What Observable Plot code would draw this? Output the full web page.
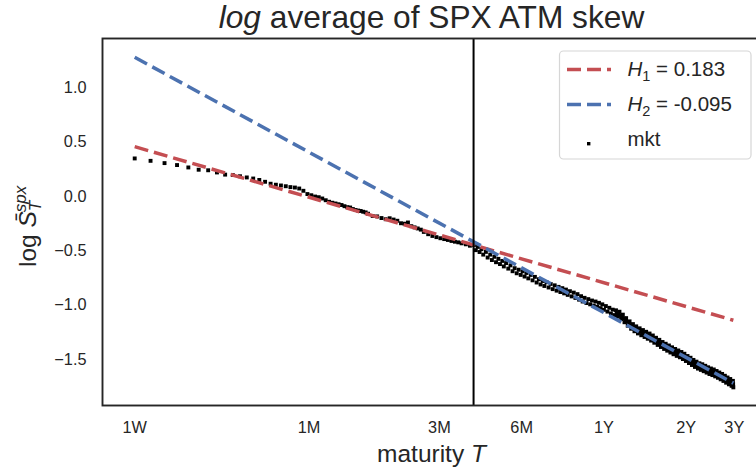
<!DOCTYPE html>
<html>
<head>
<meta charset="utf-8">
<script src="https://cdn.jsdelivr.net/npm/d3@7"></script>
<script src="https://cdn.jsdelivr.net/npm/@observablehq/plot@0.6"></script>
<style>
html, body { margin: 0; padding: 0; background: #fff; overflow: hidden; }
#chart { width: 756px; height: 470px; overflow: hidden; }
#chart svg { max-width: none !important; }
</style>
</head>
<body>
<div id="chart"></div>
<script>
// Market log average ATM skew, by maturity in calendar days
const mktDays = [
  7, 8, 9, 10, 11, 12, 13, 14, 15, 16, 17, 18, 19, 20, 21, 22, 23, 24, 25, 26, 27, 28, 29, 30,
  31, 32, 33, 34, 35, 36, 37, 38, 39, 40, 41, 42, 43, 44, 45, 46, 47, 48, 49, 50,
  52, 54, 56, 58, 60, 62, 64, 66, 68, 70, 72, 74, 76, 78, 80, 83, 86, 89, 92, 95, 98,
  101, 104, 107, 110, 114, 118,
  122, 124, 126, 128, 130, 132, 135, 137, 140, 142, 145, 147, 150, 152, 155, 157, 160, 163,
  166, 169, 172, 175, 178, 181, 184, 187, 190, 193, 197, 200, 204, 207, 211, 214, 218, 221,
  225, 229, 233, 237, 241, 245, 249, 253, 257, 261, 265, 269, 274, 278, 283, 287, 292, 296,
  301, 305, 310, 315, 320, 325, 330, 335, 340, 345, 350, 355, 360, 365, 371, 376, 382, 387,
  393, 398, 404, 410, 416, 422, 428, 434, 440, 446, 453, 459, 466, 472, 479, 486, 493, 500,
  507, 514, 521, 528, 536, 543, 551, 558, 566, 574, 582, 590, 598, 606, 614, 622, 631, 639,
  648, 656, 665, 674, 683, 692, 701, 710, 719, 728, 738, 747, 757, 766, 776, 786, 796, 806,
  816, 826, 836, 846, 857, 867, 878, 888, 899, 910, 921, 932, 943, 954, 965, 976, 988, 999,
  1011, 1022, 1034, 1046, 1058, 1070, 1082, 1086,
  407, 413, 419, 425, 431, 437, 443, 450, 456, 462, 469, 476, 482, 490, 497, 504, 510, 518,
  525, 532, 540, 547, 555, 562, 570, 578, 586, 594, 602, 610, 618, 627, 635, 644, 652, 660,
  670, 679, 688, 697, 706, 715, 724, 733, 743, 752, 762, 771, 781, 791, 801, 811, 821, 831,
  841, 852, 862, 873, 883, 894, 905, 916, 927, 938, 949, 960, 971, 982, 994, 1005, 1016, 1028,
  1040, 1052, 1064, 1076, 1084
];
const mktLogSkew = [
  0.351, 0.329, 0.308, 0.290, 0.268, 0.247, 0.242, 0.222, 0.202, 0.198, 0.187, 0.176, 0.166, 0.153,
  0.136, 0.118, 0.109, 0.102, 0.095, 0.087, 0.083, 0.074, 0.053, 0.023,
  0.012, 0.000, -0.006, -0.018, -0.034, -0.048, -0.057, -0.064, -0.071, -0.078, -0.089, -0.098,
  -0.101, -0.115, -0.124, -0.129, -0.133, -0.140, -0.146, -0.158,
  -0.179, -0.183, -0.198, -0.209, -0.200, -0.212, -0.223, -0.246, -0.250, -0.239, -0.273, -0.284,
  -0.294, -0.305, -0.326, -0.347, -0.363, -0.374, -0.384, -0.392, -0.400,
  -0.409, -0.416, -0.422, -0.431, -0.440, -0.453,
  -0.448, -0.494, -0.464, -0.511, -0.485, -0.535, -0.510, -0.562, -0.535, -0.585, -0.555, -0.605,
  -0.574, -0.622, -0.593, -0.644, -0.613, -0.664,
  -0.634, -0.688, -0.660, -0.707, -0.674, -0.722, -0.688, -0.737, -0.704, -0.754, -0.722, -0.772,
  -0.740, -0.792, -0.762, -0.810, -0.778, -0.824,
  -0.789, -0.838, -0.805, -0.853, -0.818, -0.867, -0.832, -0.880, -0.844, -0.892, -0.857, -0.906,
  -0.872, -0.920, -0.885, -0.934, -0.899, -0.950,
  -0.918, -0.967, -0.933, -0.981, -0.945, -0.993, -0.958, -1.005, -0.967, -1.015, -0.979, -1.028,
  -0.993, -1.044, -1.009, -1.060, -1.025, -1.078,
  -1.042, -1.092, -1.048, -1.106, -1.061, -1.128, -1.088, -1.158, -1.120, -1.190, -1.150, -1.218,
  -1.175, -1.241, -1.196, -1.261, -1.214, -1.278,
  -1.230, -1.294, -1.246, -1.310, -1.262, -1.327, -1.280, -1.347, -1.301, -1.367, -1.320, -1.386,
  -1.340, -1.404, -1.356, -1.420, -1.372, -1.437,
  -1.389, -1.453, -1.404, -1.468, -1.418, -1.481, -1.432, -1.497, -1.448, -1.515, -1.469, -1.534,
  -1.485, -1.552, -1.505, -1.570, -1.521, -1.585,
  -1.536, -1.597, -1.545, -1.609, -1.559, -1.622, -1.573, -1.635, -1.584, -1.645, -1.593, -1.657,
  -1.607, -1.670, -1.621, -1.684, -1.634, -1.699,
  -1.651, -1.715, -1.667, -1.730, -1.681, -1.744, -1.698, -1.758,
  -1.077, -1.084, -1.095, -1.108, -1.123, -1.139, -1.155, -1.170, -1.184, -1.197, -1.208, -1.219,
  -1.229, -1.238, -1.246, -1.254, -1.262, -1.270,
  -1.278, -1.286, -1.295, -1.304, -1.314, -1.324, -1.334, -1.344, -1.353, -1.363, -1.372, -1.380,
  -1.388, -1.396, -1.405, -1.413, -1.421, -1.429,
  -1.436, -1.443, -1.450, -1.457, -1.465, -1.473, -1.482, -1.492, -1.502, -1.510, -1.519, -1.529,
  -1.538, -1.546, -1.553, -1.561, -1.567, -1.571,
  -1.577, -1.584, -1.591, -1.598, -1.604, -1.610, -1.615, -1.619, -1.625, -1.632, -1.639, -1.646,
  -1.653, -1.659, -1.667, -1.675, -1.683, -1.691,
  -1.699, -1.706, -1.713, -1.721, -1.728
];

// Power-law fits: log S = level + (H - 0.5) * log T, with the level taken at T = 1Y
const fitH = [0.183, -0.095];
const fitLevel = [-0.794, -1.07];
const fitColors = ["#c44e52", "#4c72b0"];

// Axis ticks (maturity in years) and the regime boundary
const tickYears = [7 / 365, 1 / 12, 0.25, 0.5, 1, 2, 3];
const tickLabels = ["1W", "1M", "3M", "6M", "1Y", "2Y", "3Y"];
const yTicks = [-1.5, -1, -0.5, 0, 0.5, 1];
const cutoffYears = 1 / 3;

const mkt = mktDays.map((d, i) => ({T: d / 365, v: mktLogSkew[i]}));
const T0 = d3.min(mkt, d => d.T);
const T1 = d3.max(mkt, d => d.T);
const fitLine = i => [T0, T1].map(T => ({T, v: fitLevel[i] + (fitH[i] - 0.5) * Math.log(T)}));
const xTicks = tickYears.map((T, i) => ({T, label: tickLabels[i]}));

const ink = "#262626";
const fontFamily = "'Liberation Sans', Arial, sans-serif";

const chart = Plot.plot({
  width: 762,
  height: 470,
  marginLeft: 102,
  marginRight: 1,
  marginTop: 38,
  marginBottom: 65,
  style: {fontFamily, fontSize: "16.3px", color: ink, background: "#fff", maxWidth: "none"},
  x: {type: "log", domain: [0.01462, 3.772], axis: null},
  y: {domain: [-1.925, 1.456]},
  marks: [
    Plot.dot(mkt, {x: "T", y: "v", symbol: "square", r: 2.2, fill: "#000"}),
    Plot.line(fitLine(0), {x: "T", y: "v", stroke: fitColors[0], strokeWidth: 3.5, strokeDasharray: "14,6", strokeLinecap: "butt"}),
    Plot.line(fitLine(1), {x: "T", y: "v", stroke: fitColors[1], strokeWidth: 3.5, strokeDasharray: "14,6", strokeLinecap: "butt"}),
    Plot.ruleX([cutoffYears], {stroke: "#000", strokeWidth: 2}),
    Plot.text(xTicks, {x: "T", text: "label", frameAnchor: "bottom", lineAnchor: "top", dy: 15.5, fill: ink}),
    Plot.axisY(yTicks, {tickSize: 0, tickPadding: 16, label: null, fill: ink,
      tickFormat: d => d3.format(".1f")(d).replace("-", "\u2212")}),
    Plot.frame({stroke: ink, strokeWidth: 1.9})
  ]
});

document.getElementById("chart").append(chart);
const svg = d3.select(chart);

// Title
const title = svg.append("text")
  .attr("x", 431.5).attr("y", 28)
  .attr("text-anchor", "middle")
  .attr("font-size", 31.7).attr("fill", ink);
title.append("tspan").attr("font-style", "italic").text("log");
title.append("tspan").text(" average of SPX ATM skew");

// x label
const xl = svg.append("text")
  .attr("x", 431.5).attr("y", 461.5)
  .attr("text-anchor", "middle")
  .attr("font-size", 24.5).attr("fill", ink);
xl.append("tspan").text("maturity ");
xl.append("tspan").attr("font-style", "italic").text("T");

// y label
const yl = svg.append("text")
  .attr("transform", "translate(35.5,267) rotate(-90)")
  .attr("text-anchor", "start")
  .attr("font-size", 24.5).attr("fill", ink);
yl.append("tspan").text("log ");
yl.append("tspan").attr("font-style", "italic").text("S\u0304");
yl.append("tspan").attr("font-style", "italic").attr("font-size", 17).attr("dy", 5).text("T");
yl.append("tspan").attr("font-style", "italic").attr("font-size", 17).attr("dx", -10).attr("dy", -15).text("spx");

// Legend
const lg = svg.append("g").attr("font-size", 20.5).attr("fill", ink).attr("text-anchor", "start");
lg.append("rect")
  .attr("x", 559.5).attr("y", 51).attr("width", 191.5).attr("height", 108).attr("rx", 4)
  .attr("fill", "#fff").attr("fill-opacity", 0.8).attr("stroke", "#d6d6d6").attr("stroke-width", 1.2);
const rowY = [69.5, 104.5];
fitH.forEach((H, i) => {
  lg.append("line")
    .attr("x1", 567).attr("x2", 611).attr("y1", rowY[i]).attr("y2", rowY[i])
    .attr("stroke", fitColors[i]).attr("stroke-width", 3.5).attr("stroke-dasharray", "14,6");
  const t = lg.append("text").attr("x", 627.5).attr("y", rowY[i] + 6.5);
  t.append("tspan").attr("font-style", "italic").text("H");
  t.append("tspan").attr("font-size", 14.5).attr("dy", 5).text(String(i + 1));
  t.append("tspan").attr("dy", -5).text(` = ${H}`);
});
lg.append("rect").attr("x", 587).attr("y", 142).attr("width", 3.4).attr("height", 3.4).attr("fill", "#000");
lg.append("text").attr("x", 627.5).attr("y", 146).text("mkt");
</script>
</body>
</html>
